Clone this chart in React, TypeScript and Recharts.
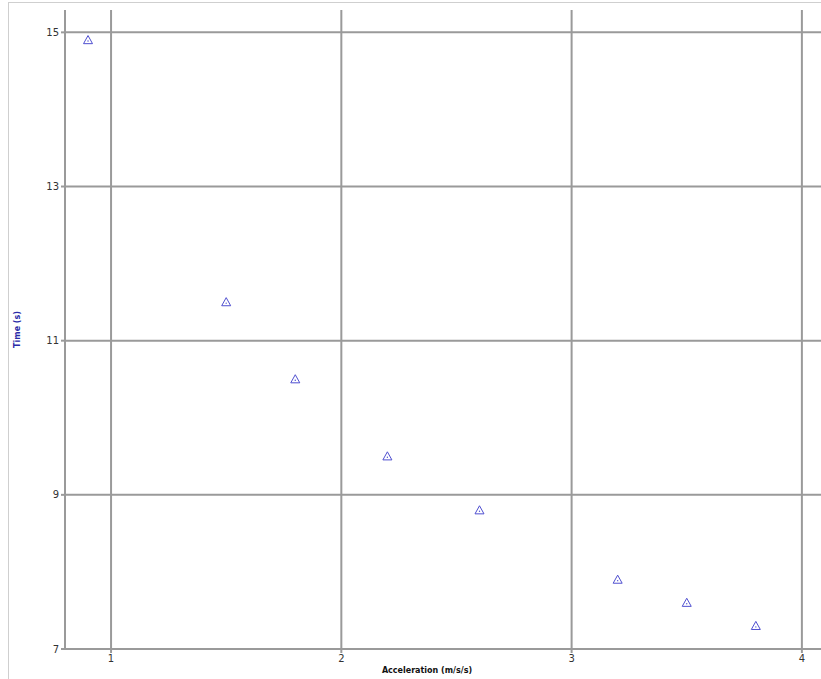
import React from "react";
import {
  ScatterChart,
  Scatter,
  XAxis,
  YAxis,
  ReferenceLine,
  Label
} from "recharts";

// acceleration (m/s/s) vs time (s)
const acceleration = [0.9, 1.5, 1.8, 2.2, 2.6, 3.2, 3.5, 3.8];
const time = [14.9, 11.5, 10.5, 9.5, 8.8, 7.9, 7.6, 7.3];
const xTicks = [1, 2, 3, 4];
const yTicks = [7, 9, 11, 13, 15];

const points = acceleration.map((a, i) => ({ a, t: time[i] }));

const GRID = "#9a9a9a";

function TriangleMark(props: any) {
  const { cx, cy } = props;
  if (cx == null || cy == null) return null;
  const s = 4.5;
  return (
    <g>
      <polygon
        points={`${cx},${cy - s} ${cx - s},${cy + s * 0.8} ${cx + s},${cy + s * 0.8}`}
        fill="none"
        stroke="#4f4fd0"
        strokeWidth={1}
      />
      <circle cx={cx} cy={cy + 1} r={0.7} fill="#4f4fd0" />
    </g>
  );
}

export default function App() {
  return (
    <div style={{ position: "absolute", left: 0, top: 0, width: 821, height: 679, overflow: "hidden", background: "#fff" }}>
      <div
        style={{
          position: "absolute",
          left: 8,
          top: 2,
          width: 830,
          height: 690,
          borderLeft: "1px solid #cfcfcf",
          borderTop: "1px solid #cfcfcf"
        }}
      />
      <ScatterChart
        width={821}
        height={679}
        margin={{ top: 10, right: 0, left: 0, bottom: 0 }}
        style={{ position: "absolute", left: 0, top: 0 }}
      >
        <XAxis
          type="number"
          dataKey="a"
          domain={[0.8, 4.083]}
          ticks={xTicks}
          height={30}
          stroke={GRID}
          strokeWidth={2}
          tickSize={4}
          tick={{ fill: "#333", fontSize: 10, fontFamily: "DejaVu Sans" }}
        >
          <Label
            value="Acceleration (m/s/s)"
            position="insideBottom"
            offset={6}
            dx={-16}
            style={{ fill: "#111", fontSize: 8, fontWeight: "bold", fontFamily: "DejaVu Sans" }}
          />
        </XAxis>
        <YAxis
          type="number"
          dataKey="t"
          domain={[7, 15.29]}
          ticks={yTicks}
          width={65}
          stroke={GRID}
          strokeWidth={2}
          tickSize={4}
          tick={{ fill: "#333", fontSize: 10, fontFamily: "DejaVu Sans" }}
        >
          <Label
            value="Time (s)"
            angle={-90}
            position="insideLeft"
            offset={17}
            style={{ fill: "#2a2aa8", fontSize: 8, fontWeight: "bold", fontFamily: "DejaVu Sans", textAnchor: "middle" }}
          />
        </YAxis>
        {/* grid only on the labelled ticks, no frame round the plot */}
        {xTicks.map((v) => (
          <ReferenceLine key={`x${v}`} x={v} stroke={GRID} strokeWidth={2} />
        ))}
        {yTicks.map((v) => (
          <ReferenceLine key={`y${v}`} y={v} stroke={GRID} strokeWidth={2} />
        ))}
        <Scatter data={points} shape={<TriangleMark />} isAnimationActive={false} />
      </ScatterChart>
    </div>
  );
}
